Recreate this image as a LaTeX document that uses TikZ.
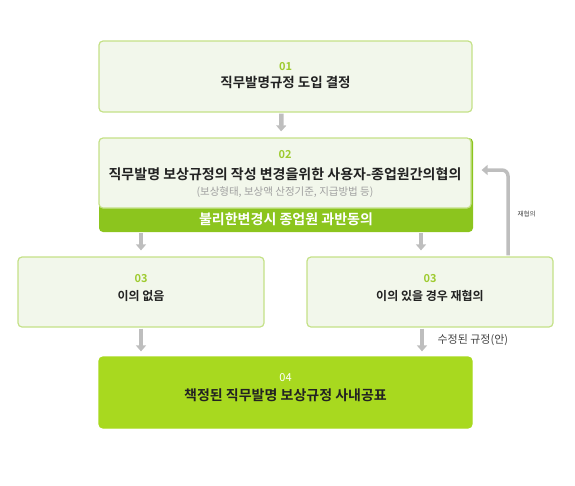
\documentclass[tikz,border=0pt]{standalone}
\usepackage{fontspec}
\setmainfont{Noto Sans CJK KR}[BoldFont={Noto Sans CJK KR Bold}]
\usetikzlibrary{arrows.meta,positioning,calc}
\definecolor{boxfill}{RGB}{242, 247, 235}
\definecolor{boxline}{RGB}{196, 225, 135}
\definecolor{barfill}{RGB}{140, 197, 30}
\definecolor{finalfill}{RGB}{168, 217, 31}
\definecolor{numgreen}{RGB}{158, 203, 47}
\definecolor{flowgray}{RGB}{190, 190, 190}
\definecolor{subgray}{RGB}{160, 160, 160}
\definecolor{textdark}{RGB}{34, 34, 34}

\tikzset{
    stepbox/.style={draw=boxline, fill=boxfill, line width=1.2pt, rounded corners=4pt,
        inner sep=0pt},
    steptext/.style={inner sep=0pt, align=center, text=textdark,
        font=\bfseries\fontsize{13.5}{15}\selectfont},
    flow/.style={draw=flowgray, line width=4.5pt, -{Triangle[width=10pt,length=6pt]},
        shorten <=1pt},
    stepnum/.style={text=numgreen, font=\bfseries\fontsize{11}{12}\selectfont}
}
\newcommand{\stepno}[2][numgreen]{{\color{#1}\fontsize{11}{12}\selectfont #2}}

\begin{document}
\begin{tikzpicture}[x=1pt, y=-1pt]
    \useasboundingbox (0,0) rectangle (575,485);
    % step 01
    \node[stepbox, minimum width=373pt, minimum height=71pt] (b1) at (285.5,76.5) {};
    \node[steptext] (t1) at ([yshift=1pt]b1.center) {\stepno{01}\\[2pt] 직무발명규정 도입 결정};
    % step 02 with green band
    \node[fill=barfill, rounded corners=4pt, minimum width=374pt, minimum height=94pt, inner sep=0pt] (b2bar) at (286,185) {};
    \node[stepbox, minimum width=372pt, minimum height=70pt] (b2) at (285,173) {};
    \node[steptext, font=\bfseries\fontsize{14}{16}\selectfont] (t2) at ([yshift=-1pt]b2.center)
        {\stepno{02}\\[5pt] 직무발명 보상규정의 작성 변경을위한 사용자-종업원간의협의\\[0pt]
         {\mdseries\color{subgray}\fontsize{10.5}{12}\selectfont (보상형태, 보상액 산정기준, 지급방법 등)}};
    \node[text=white, font=\bfseries\fontsize{14}{16}\selectfont] (b2note) at (286,219) {불리한변경시 종업원 과반동의};
    % step 03
    \node[stepbox, minimum width=246pt, minimum height=70pt] (b3l) at (141,292) {};
    \node[steptext, font=\bfseries\fontsize{12}{14}\selectfont] (t3l) at ([yshift=4pt]b3l.center) {\stepno{03}\\[4pt] 이의 없음};
    \node[stepbox, minimum width=246pt, minimum height=70pt] (b3r) at (430,292) {};
    \node[steptext, font=\bfseries\fontsize{12}{14}\selectfont] (t3r) at ([yshift=4pt]b3r.center) {\stepno{03}\\[4pt] 이의 있을 경우 재협의};
    % step 04
    \node[stepbox, draw=finalfill, fill=finalfill, minimum width=373pt, minimum height=71pt] (b4) at (285.5,392.5) {};
    \node[steptext, font=\bfseries\fontsize{14}{16}\selectfont] (t4) at ([yshift=5pt]b4.center)
        {{\mdseries\stepno[white]{04}}\\[3pt] 책정된 직무발명 보상규정 사내공표};

    \coordinate (r3top) at ([xshift=-9pt]b3r.north);
    \coordinate (r3bot) at ([xshift=-8pt]b3r.south);
    \coordinate (fbstart) at ([xshift=78pt]b3r.north);

    % connectors
    \draw[flow, shorten >=6pt] ([xshift=-4pt]b1.south) -- ([xshift=-4pt]b2.north);
    \draw[flow, shorten >=6pt] (b3l.north |- b2bar.south) -- (b3l.north);
    \draw[flow, shorten >=6pt] (r3top |- b2bar.south) -- (r3top);
    \draw[flow, shorten >=5pt] (b3l.south) -- (b3l.south |- b4.north);
    \draw[flow, shorten >=5pt] (r3bot) -- (r3bot |- b4.north);
    \draw[flow, line width=3.5pt, rounded corners=6pt, shorten >=10pt] (fbstart) |- ([yshift=3pt]b2.east);

    % labels
    \node[anchor=west, text=textdark!85, font=\fontsize{11}{12}\selectfont] (revlbl) at (434,340) {수정된 규정(안)};
    \node[anchor=west, text=textdark!85, font=\fontsize{6.5}{8}\selectfont] (renego) at (514,214) {재협의};
\end{tikzpicture}
\end{document}
